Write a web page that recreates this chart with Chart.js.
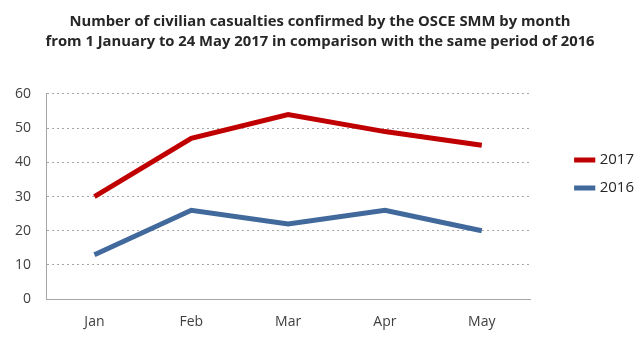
<!DOCTYPE html>
<html>
<head>
<meta charset="utf-8">
<script src="https://cdn.jsdelivr.net/npm/chart.js@4/dist/chart.umd.min.js"></script>
<style>
  html, body { margin: 0; padding: 0; background: #fff; }
  #wrap { width: 640px; height: 360px; }
</style>
</head>
<body>
<div id="wrap"><canvas id="casualtiesChart" width="640" height="360"></canvas></div>
<script>
const months = ['Jan', 'Feb', 'Mar', 'Apr', 'May'];
const values2017 = [30, 47, 54, 49, 45];
const values2016 = [13, 26, 22, 26, 20];
const titleLines = [
    'Number of civilian casualties confirmed by the OSCE SMM by month',
    'from 1 January to 24 May 2017 in comparison with the same period of 2016'
];

// leave a wider gap between the plot and the legend on the right
const LEGEND_EXTRA = 30;
const LEGEND_SHIFT = 34;
const legendGap = {
    id: 'legendGap',
    beforeLayout(chart) {
        const lg = chart.legend;
        if (!lg || lg._gapPatched) return;
        lg._gapPatched = true;
        const fit = lg.fit;
        lg.fit = function() {
            fit.call(this);
            this.width += LEGEND_EXTRA;
        };
        const draw = lg.draw;
        lg.draw = function() {
            this.ctx.save();
            this.ctx.translate(LEGEND_SHIFT, 0);
            draw.call(this);
            this.ctx.restore();
        };
    }
};

const ctx = document.getElementById('casualtiesChart').getContext('2d');
new Chart(ctx, {
    type: 'line',
    data: {
        labels: months,
        datasets: [{
            label: '2017',
            data: values2017,
            borderColor: '#C00000',
            backgroundColor: '#C00000',
            borderWidth: 5,
            pointRadius: 0,
            tension: 0
        }, {
            label: '2016',
            data: values2016,
            borderColor: '#41699B',
            backgroundColor: '#41699B',
            borderWidth: 5,
            pointRadius: 0,
            tension: 0
        }]
    },
    options: {
        responsive: false,
        animation: false,
        layout: {
            padding: { left: 0, right: 0, top: 4, bottom: 16 }
        },
        scales: {
            x: {
                offset: true,
                grid: { display: false, drawTicks: false },
                border: { color: '#a6a6a6', width: 1 },
                ticks: {
                    color: '#404040',
                    font: { family: 'Open Sans', size: 14 },
                    padding: 14
                }
            },
            y: {
                min: 0,
                max: 60,
                ticks: {
                    stepSize: 10,
                    color: '#404040',
                    font: { family: 'Open Sans', size: 14 },
                    padding: 15
                },
                grid: { color: '#a6a6a6', drawTicks: false },
                border: { color: '#a6a6a6', width: 1, dash: [2, 3] }
            }
        },
        plugins: {
            legend: {
                position: 'right',
                labels: {
                    usePointStyle: true,
                    pointStyle: 'line',
                    boxWidth: 22,
                    color: '#262626',
                    font: { family: 'Open Sans', size: 15 },
                    padding: 13
                }
            },
            title: {
                display: true,
                text: titleLines,
                color: '#262626',
                font: { family: 'Open Sans', size: 14.8, weight: 'bold', lineHeight: 1.35 },
                padding: { top: 8, bottom: 42 }
            }
        }
    },
    plugins: [legendGap]
});
</script>
</body>
</html>
